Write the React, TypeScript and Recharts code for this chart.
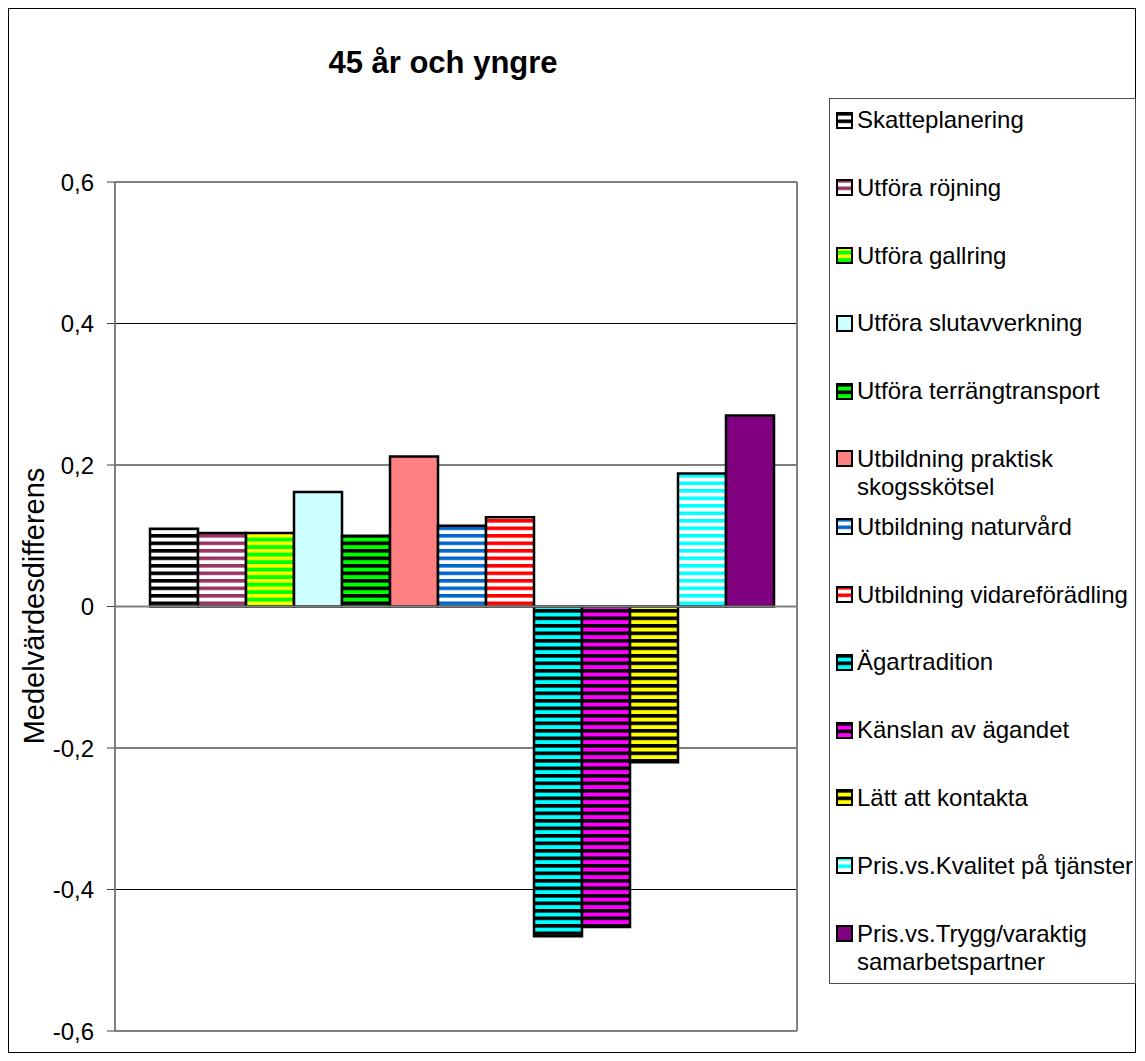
import React from 'react';
import { BarChart, Bar, XAxis, YAxis, CartesianGrid, ReferenceLine } from 'recharts';

const title = '45 år och yngre';
const yAxisTitle = 'Medelvärdesdifferens';
const seriesNames = [
  'Skatteplanering',
  'Utföra röjning',
  'Utföra gallring',
  'Utföra slutavverkning',
  'Utföra terrängtransport',
  'Utbildning praktisk skogsskötsel',
  'Utbildning naturvård',
  'Utbildning vidareförädling',
  'Ägartradition',
  'Känslan av ägandet',
  'Lätt att kontakta',
  'Pris.vs.Kvalitet på tjänster',
  'Pris.vs.Trygg/varaktig samarbetspartner',
];
const legendLines = [
  ['Skatteplanering'],
  ['Utföra röjning'],
  ['Utföra gallring'],
  ['Utföra slutavverkning'],
  ['Utföra terrängtransport'],
  ['Utbildning praktisk', 'skogsskötsel'],
  ['Utbildning naturvård'],
  ['Utbildning vidareförädling'],
  ['Ägartradition'],
  ['Känslan av ägandet'],
  ['Lätt att kontakta'],
  ['Pris.vs.Kvalitet på tjänster'],
  ['Pris.vs.Trygg/varaktig', 'samarbetspartner'],
];
const seriesValues = [0.110, 0.104, 0.104, 0.162, 0.100, 0.212, 0.114, 0.126, -0.466, -0.453, -0.220, 0.188, 0.270];
const yTicks = [-0.6, -0.4, -0.2, 0, 0.2, 0.4, 0.6];

// [background, stripe] ; stripe null => solid
const fills: [string, string | null][] = [
  ['#FFFFFF', '#000000'],
  ['#FFFFFF', '#993366'],
  ['#00FF00', '#FFFF00'],
  ['#CCFFFF', null],
  ['#00FF00', '#000000'],
  ['#FF8080', null],
  ['#FFFFFF', '#0066CC'],
  ['#FFFFFF', '#FF0000'],
  ['#00FFFF', '#000000'],
  ['#FF00FF', '#000000'],
  ['#FFFF00', '#000000'],
  ['#FFFFFF', '#00FFFF'],
  ['#800080', null],
];

const keys = seriesNames.map((_, i) => `s${i}`);
const row: Record<string, any> = { name: '' };
keys.forEach((k, i) => { row[k] = seriesValues[i]; });
const data = [row];

const fillOf = (i: number) => (fills[i][1] ? `url(#pat${i})` : fills[i][0]);
const FONT = '"Liberation Sans", Arial, sans-serif';

const Patterns = () => (
  <defs>
    {fills.map(([bg, fg], i) =>
      fg ? (
        <pattern key={i} id={`pat${i}`} patternUnits="userSpaceOnUse" width={8} height={7.5}>
          <rect x={0} y={0} width={8} height={7.5} fill={bg} />
          <rect x={0} y={0} width={8} height={3.6} fill={fg} />
        </pattern>
      ) : null
    )}
  </defs>
);

const fmt = (v: number) => (v === 0 ? '0' : v.toFixed(1).replace('.', ','));

export default function App() {
  const slot = 67.8;
  return (
    <div
      style={{
        position: 'relative',
        width: 1128,
        height: 1045,
        border: '1px solid #000',
        boxSizing: 'border-box',
        fontFamily: FONT,
        background: '#fff',
      }}
    >
      <svg width={1126} height={1043} style={{ position: 'absolute', left: 0, top: 0 }}>
        <Patterns />
        <text x={434} y={64} textAnchor="middle" fontFamily={FONT} fontWeight="bold" fontSize={31} fill="#000">
          {title}
        </text>
        <text
          x={25}
          y={597}
          transform="rotate(-90 25 597)"
          textAnchor="middle"
          dominantBaseline="central"
          fontFamily={FONT}
          fontSize={29}
          fill="#000"
        >
          {yAxisTitle}
        </text>
      </svg>
      <div style={{ position: 'absolute', left: 0, top: 0 }}>
        <BarChart
          width={1126}
          height={1043}
          data={data}
          margin={{ top: 173, right: 338, bottom: 21, left: 26 }}
          barGap={0}
          barSize={48}
        >
          <CartesianGrid vertical={false} stroke="#000" strokeWidth={1} />
          <CartesianGrid
            stroke="#808080"
            strokeWidth={2}
            horizontalCoordinatesGenerator={({ offset }: any) => [offset.top, offset.top + offset.height]}
            verticalCoordinatesGenerator={({ offset }: any) => [offset.left + offset.width]}
          />
          <XAxis dataKey="name" hide padding={{ left: 11, right: 0 }} />
          <YAxis
            width={80}
            domain={[-0.6, 0.6]}
            ticks={yTicks}
            interval={0}
            tickFormatter={fmt}
            tickSize={8}
            tickMargin={13}
            axisLine={{ stroke: '#808080', strokeWidth: 2 }}
            tickLine={{ stroke: '#404040', strokeWidth: 1 }}
            tick={{ fill: '#000', fontSize: 24, fontFamily: FONT }}
          />
          <ReferenceLine y={0} stroke="#808080" strokeWidth={2} />
          {keys.map((k, i) => (
            <Bar
              key={k}
              dataKey={k}
              name={seriesNames[i]}
              fill={fillOf(i)}
              stroke="#000"
              strokeWidth={2.5}
              isAnimationActive={false}
            />
          ))}
        </BarChart>
      </div>
      <div
        style={{
          position: 'absolute',
          left: 820,
          top: 89,
          width: 307,
          height: 886,
          border: '1px solid #4d4d4d',
          boxSizing: 'border-box',
          paddingTop: 7,
        }}
      >
        {legendLines.map((lines, i) => (
          <div key={i} style={{ position: 'relative', height: slot }}>
            <svg width={17} height={17} style={{ position: 'absolute', left: 6, top: 5.5 }}>
              <rect x={1} y={1} width={15} height={15} fill={fillOf(i)} stroke="#000" strokeWidth={2} />
            </svg>
            <div
              style={{
                position: 'absolute',
                left: 27,
                top: 0,
                fontSize: 24,
                lineHeight: '28.5px',
                color: '#000',
                whiteSpace: 'nowrap',
              }}
            >
              {lines.map((l, j) => (
                <div key={j}>{l}</div>
              ))}
            </div>
          </div>
        ))}
      </div>
    </div>
  );
}
